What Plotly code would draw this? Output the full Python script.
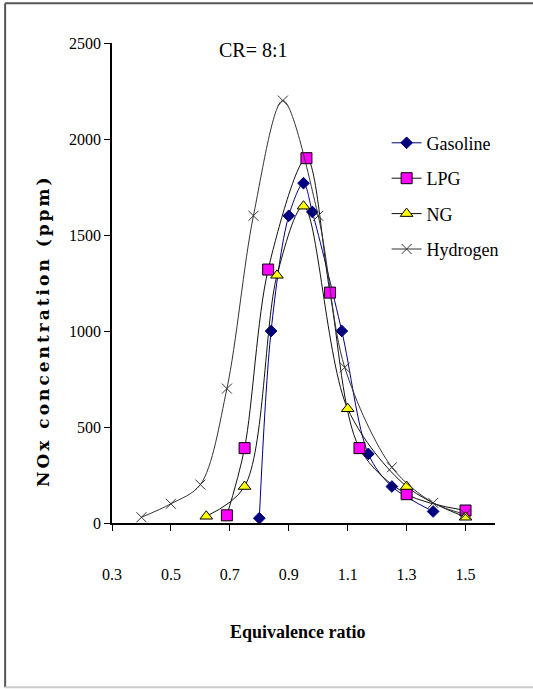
import plotly.graph_objects as go

# Data
gas_x = [0.80, 0.84, 0.90, 0.95, 0.98, 1.08, 1.17, 1.25, 1.39]
gas_y = [25, 1000, 1600, 1770, 1620, 1000, 360, 190, 60]

lpg_x = [0.69, 0.75, 0.83, 0.96, 1.04, 1.14, 1.30, 1.50]
lpg_y = [40, 390, 1320, 1900, 1200, 390, 150, 65]

ng_x = [0.62, 0.75, 0.86, 0.95, 1.10, 1.30, 1.50]
ng_y = [35, 190, 1290, 1650, 595, 190, 30]

h2_x = [0.40, 0.50, 0.60, 0.69, 0.78, 0.88, 1.00, 1.09, 1.25, 1.39, 1.50]
h2_y = [30, 100, 200, 700, 1600, 2200, 1600, 810, 290, 105, 45]

x_ticks = [0.3, 0.5, 0.7, 0.9, 1.1, 1.3, 1.5]
y_ticks = [0, 500, 1000, 1500, 2000, 2500]

SERIF = "Liberation Serif"

fig = go.Figure()
fig.add_trace(go.Scatter(
    x=gas_x, y=gas_y, name="Gasoline", mode="lines+markers", legendgroup="a",
    line=dict(color="#000080", width=1, shape="spline", smoothing=0.9),
    marker=dict(symbol="diamond", size=9, color="#000080", line=dict(color="#000080", width=1)),
))
fig.add_trace(go.Scatter(
    x=lpg_x, y=lpg_y, name="LPG", mode="lines+markers", legendgroup="b",
    line=dict(color="#111111", width=1, shape="spline", smoothing=0.9),
    marker=dict(symbol="square", size=11, color="#FF00FF", line=dict(color="#000000", width=1)),
))
fig.add_trace(go.Scatter(
    x=ng_x, y=ng_y, name="NG", mode="lines+markers", legendgroup="c",
    line=dict(color="#111111", width=1, shape="spline", smoothing=0.9),
    marker=dict(symbol="triangle-up", size=11, color="#FFFF00", line=dict(color="#000000", width=1)),
))
fig.add_trace(go.Scatter(
    x=h2_x, y=h2_y, name="Hydrogen", mode="lines+markers", legendgroup="d",
    line=dict(color="#333333", width=1, shape="spline", smoothing=0.9),
    marker=dict(symbol="x-thin", size=10, color="#333333", line=dict(color="#333333", width=1)),
))

fig.update_layout(
    width=533, height=689,
    margin=dict(l=112, r=38, t=43, b=166),
    paper_bgcolor="white", plot_bgcolor="white",
    font=dict(family=SERIF, color="#000000", size=15),
    showlegend=True,
    legend=dict(
        x=0.717, y=0.83, xanchor="left", yanchor="top",
        font=dict(family=SERIF, size=18, color="#000000"),
        bgcolor="rgba(0,0,0,0)", tracegroupgap=9, traceorder="grouped",
    ),
    xaxis=dict(
        range=[0.3, 1.6], tickmode="array", tickvals=x_ticks,
        ticktext=[f"{v:.1f}" for v in x_ticks],
        showgrid=False, zeroline=False, showline=True, linecolor="#000000", linewidth=1.5,
        ticks="outside", ticklen=6, tickcolor="#000000",
        ticklabelstandoff=30,
        tickfont=dict(family=SERIF, size=16, color="#000000"),
    ),
    yaxis=dict(
        range=[0, 2500], tickmode="array", tickvals=y_ticks,
        showgrid=False, zeroline=False, showline=True, linecolor="#000000", linewidth=1.5,
        ticks="outside", ticklen=6, tickcolor="#000000",
        tickfont=dict(family=SERIF, size=16, color="#000000"),
    ),
    annotations=[
        dict(text="CR= 8:1", xref="paper", yref="paper", x=0.37, y=0.985,
             xanchor="center", yanchor="middle", showarrow=False,
             font=dict(family=SERIF, size=20, color="#000000")),
        dict(text="<b>Equivalence ratio</b>", xref="paper", yref="paper", x=0.485, y=-0.227,
             xanchor="center", yanchor="middle", showarrow=False,
             font=dict(family=SERIF, size=18, color="#000000")),
        dict(text='<span style="letter-spacing:3px"><b>NOx concentration (ppm)</b></span>',
             xref="paper", yref="paper", x=-0.18, y=0.4,
             xanchor="center", yanchor="middle", showarrow=False, textangle=-90,
             font=dict(family="DejaVu Serif", size=17, color="#000000")),
    ],
    shapes=[
        dict(type="line", xref="paper", yref="paper", x0=-0.279, x1=1.2, y0=1.083, y1=1.083,
             line=dict(color="#555555", width=2)),
        dict(type="line", xref="paper", yref="paper", x0=-0.279, x1=-0.279, y0=1.083, y1=-0.342,
             line=dict(color="#555555", width=2)),
        dict(type="line", xref="paper", yref="paper", x0=-0.279, x1=1.2, y0=-0.342, y1=-0.342,
             line=dict(color="#cccccc", width=2)),
    ],
)

fig.write_html("out.html")
